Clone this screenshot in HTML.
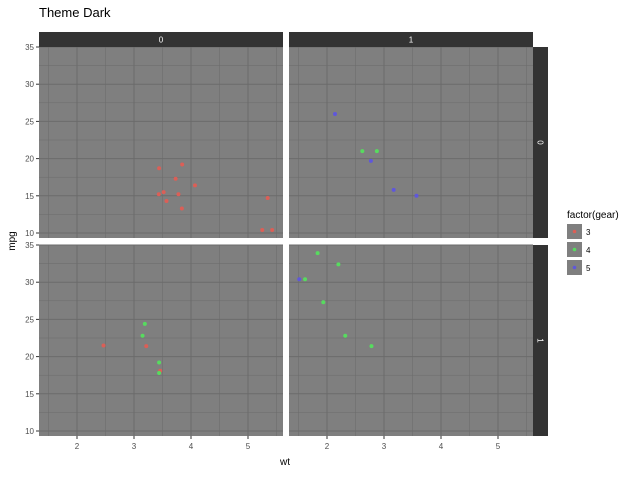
<!DOCTYPE html>
<html><head><meta charset="utf-8"><style>
body{margin:0;background:#fff;font-family:"Liberation Sans",sans-serif}
svg text{font-family:"Liberation Sans",sans-serif}
</style></head><body>
<svg id="c" width="640" height="480" xmlns="http://www.w3.org/2000/svg">
<text x="39" y="17" font-size="13" fill="#000">Theme Dark</text>
<text x="285" y="465" font-size="10" text-anchor="middle" fill="#000">wt</text>
<text transform="translate(15,241) rotate(-90)" font-size="10" text-anchor="middle" fill="#000">mpg</text>
<g>
<text x="567" y="218" font-size="10" fill="#000">factor(gear)</text>
</g>
</svg>
<script>
const wt=[2.620,2.875,2.320,3.215,3.440,3.460,3.570,3.190,3.150,3.440,3.440,4.070,3.730,3.780,5.250,5.424,5.345,2.200,1.615,1.835,2.465,3.520,3.435,3.840,3.845,1.935,2.140,1.513,3.170,2.770,3.570,2.780];
const mpg=[21.0,21.0,22.8,21.4,18.7,18.1,14.3,24.4,22.8,19.2,17.8,16.4,17.3,15.2,10.4,10.4,14.7,32.4,30.4,33.9,21.5,15.5,15.2,13.3,19.2,27.3,26.0,30.4,15.8,19.7,15.0,21.4];
const vs=[0,0,1,1,0,1,0,1,1,1,1,0,0,0,0,0,0,1,1,1,1,0,0,0,0,1,0,1,0,0,0,1];
const am=[1,1,1,0,0,0,0,0,0,0,0,0,0,0,0,0,0,1,1,1,0,0,0,0,0,1,1,1,1,1,1,1];
const gear=[4,4,4,3,3,3,3,4,4,4,4,3,3,3,3,3,3,4,4,4,3,3,3,3,3,4,5,5,5,5,5,4];
const xTicks=[2,3,4,5];
const yTicks=[10,15,20,25,30,35];
const gearLevels=[3,4,5];
const gearColors={3:"#db5f57",4:"#57db5f",5:"#5f57db"};
const facetCols=[0,1];
const facetRows=[0,1];

const NS="http://www.w3.org/2000/svg";
const svg=document.getElementById('c');
function mk(t,a,p){const e=document.createElementNS(NS,t);for(const k in a)e.setAttribute(k,a[k]);(p||svg).appendChild(e);return e;}
const PW=244,PH=191,px0=[39,289],py0=[47,245];
const xs=(w,c)=>px0[c]+38+(w-2)*57;
const ys=(m,r)=>py0[r]+186-(m-10)*7.44;
facetRows.forEach(r=>facetCols.forEach(c=>{
  const g=mk('g',{});
  
  
  mk('rect',{x:px0[c],y:py0[r],width:PW,height:PH,fill:'#7f7f7f'},g);
  for(let v=1.5;v<=5.5;v+=1){const x=xs(v,c);if(x>px0[c]&&x<px0[c]+PW)mk('line',{x1:x,x2:x,y1:py0[r],y2:py0[r]+PH,stroke:'#6b6b6b','stroke-width':0.5},g);}
  for(let v=12.5;v<=32.5;v+=5){const y=ys(v,r);mk('line',{x1:px0[c],x2:px0[c]+PW,y1:y,y2:y,stroke:'#6b6b6b','stroke-width':0.5},g);}
  xTicks.forEach(v=>{const x=xs(v,c);mk('line',{x1:x,x2:x,y1:py0[r],y2:py0[r]+PH,stroke:'#6b6b6b','stroke-width':1},g);});
  yTicks.forEach(v=>{const y=ys(v,r);mk('line',{x1:px0[c],x2:px0[c]+PW,y1:y,y2:y,stroke:'#6b6b6b','stroke-width':1},g);});
  for(let i=0;i<wt.length;i++){if(vs[i]!==r||am[i]!==c)continue;
    const p=mk('circle',{cx:xs(wt[i],c),cy:ys(mpg[i],r),r:2,fill:gearColors[gear[i]]},g);
    
    }
}));
facetCols.forEach(c=>{
  const s=mk('rect',{x:px0[c],y:32,width:PW,height:15,fill:'#333333'});
  
  
  const t=mk('text',{x:px0[c]+PW/2,y:42.5,'font-size':8,fill:'#fff','text-anchor':'middle'});t.textContent=c;
  
  
  xTicks.forEach(v=>{const x=xs(v,c);mk('line',{x1:x,x2:x,y1:436,y2:439,stroke:'#333','stroke-width':1});
    const l=mk('text',{x:x,y:449,'font-size':8,fill:'#4d4d4d','text-anchor':'middle'});l.textContent=v;
    
    });
});
facetRows.forEach(r=>{
  const s=mk('rect',{x:533,y:py0[r],width:15,height:PH,fill:'#333333'});
  
  
  const t=mk('text',{transform:`translate(537.5,${py0[r]+PH/2}) rotate(90)`,'font-size':8,fill:'#fff','text-anchor':'middle'});t.textContent=r;
  
  
  yTicks.forEach(v=>{const y=ys(v,r);mk('line',{x1:36,x2:39,y1:y,y2:y,stroke:'#333','stroke-width':1});
    const l=mk('text',{x:34,y:y+3,'font-size':8,fill:'#4d4d4d','text-anchor':'end'});l.textContent=v;
    
    });
});
gearLevels.forEach((g,i)=>{
  const y=224+i*18;
  const k=mk('rect',{x:567,y:y,width:15,height:15,fill:'#7f7f7f'});
  
  
  mk('circle',{cx:574.5,cy:y+7.5,r:1.8,fill:gearColors[g]});
  const t=mk('text',{x:586,y:y+11,'font-size':8,fill:'#000'});t.textContent=g;
  
  
});
</script>
</body></html>
